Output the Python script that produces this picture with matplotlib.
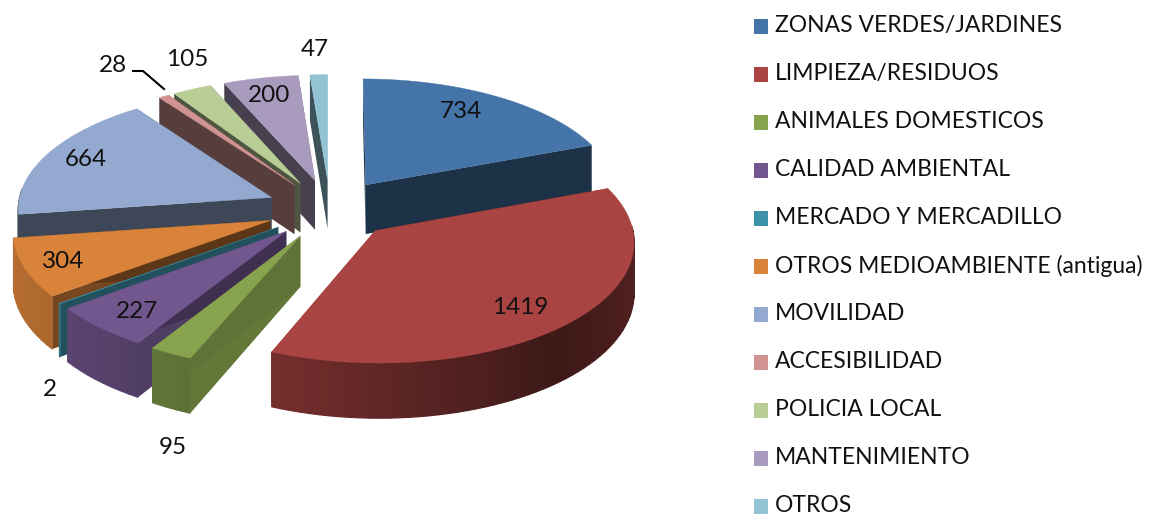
import numpy as np
import matplotlib
matplotlib.use('Agg')
import matplotlib.pyplot as plt
from matplotlib.patches import Polygon, Rectangle
from matplotlib.colors import to_rgb

categories = ['ZONAS VERDES/JARDINES', 'LIMPIEZA/RESIDUOS', 'ANIMALES DOMESTICOS',
              'CALIDAD AMBIENTAL', 'MERCADO Y MERCADILLO', 'OTROS MEDIOAMBIENTE (antigua)',
              'MOVILIDAD', 'ACCESIBILIDAD', 'POLICIA LOCAL', 'MANTENIMIENTO', 'OTROS']
values = [734, 1419, 95, 227, 2, 304, 664, 28, 105, 200, 47]
colors = ['#4474A8', '#A94442', '#88A34E', '#72578F', '#3E92A8', '#D9823A',
          '#93A9CF', '#D09392', '#B9CD96', '#A99BBD', '#92C3D4']

# where the value labels sit (pixels)
label_pos = [(461, 111), (520, 308), (173, 447), (137, 312), (50, 389), (63, 262),
             (86, 160), (113, 66), (187, 60), (269, 96), (315, 50)]

W, H = 1155, 517
cx, cy = 330, 209
S, T, K = 254, 0.465, 0.08
EXPL = 64
DEPTH = 50


def project(x, y, z=0):
    w = 1 + K * y
    return cx + S * x / w, cy - S * T * y / w + z / w


def shade(c, f):
    return tuple(v * f for v in to_rgb(c))


def rim_factor(deg):
    # dark in the front right, lighter towards the left
    return np.interp(deg, [60, 100, 140, 200, 235, 261, 262, 360], [0.5, 0.48, 0.36, 0.68, 0.8, 0.85, 0.42, 0.42])


def face_factor(deg):
    return np.interp(deg, [69, 202, 212, 233, 262, 340], [0.42, 0.73, 0.7, 0.55, 0.42, 0.42])


fig = plt.figure(figsize=(W / 100, H / 100), dpi=100)
ax = fig.add_axes([0, 0, 1, 1])
ax.set_xlim(0, W)
ax.set_ylim(H, 0)
ax.axis('off')
plt.rcParams['font.family'] = ['Lato', 'DejaVu Sans']

fr = np.array(values) / sum(values)
edges = np.concatenate([[0], np.cumsum(fr)]) * 2 * np.pi
order = sorted(range(len(values)), key=lambda i: -np.cos((edges[i] + edges[i + 1]) / 2))

for i in order:
    a0, a1 = edges[i], edges[i + 1]
    mid = (a0 + a1) / 2
    ox, oy = EXPL / S * np.sin(mid), EXPL / S * np.cos(mid)
    t = np.linspace(a0, a1, max(3, int(np.degrees(a1 - a0) / 2)))
    xs, ys = ox + np.sin(t), oy + np.cos(t)

    # cut faces
    for a in (a0, a1):
        ex, ey = ox + np.sin(a), oy + np.cos(a)
        quad = [project(ox, oy), project(ex, ey), project(ex, ey, DEPTH), project(ox, oy, DEPTH)]
        f = face_factor(np.degrees(a))
        ax.add_patch(Polygon(quad, closed=True, fc=shade(colors[i], f), ec='none', zorder=1))

    # rim, front part only
    for j in range(len(t) - 1):
        if np.cos(t[j]) > 0.05:
            continue
        quad = [project(xs[j], ys[j]), project(xs[j + 1], ys[j + 1]),
                project(xs[j + 1], ys[j + 1], DEPTH), project(xs[j], ys[j], DEPTH)]
        c = shade(colors[i], rim_factor(np.degrees(t[j])))
        ax.add_patch(Polygon(quad, closed=True, fc=c, ec=c, lw=0.8, zorder=1))

    # top
    top = [project(ox, oy)] + [project(a, b) for a, b in zip(xs, ys)]
    ax.add_patch(Polygon(top, closed=True, fc=colors[i], ec=colors[i], lw=0.3, zorder=1))

for v, (px, py) in zip(values, label_pos):
    ax.text(px, py, str(v), fontsize=17.5, ha='center', va='center', color='#111111')

ax.plot([133, 143, 164], [71, 71, 89], color='black', lw=1.5)

for i, name in enumerate(categories):
    y = 25.5 + i * 48
    ax.add_patch(Rectangle((754, y - 7), 14, 15, fc=colors[i], ec='none'))
    ax.text(775, y, name, fontsize=16.5, ha='left', va='center', color='#111111')

fig.savefig('out.png', dpi=100)
